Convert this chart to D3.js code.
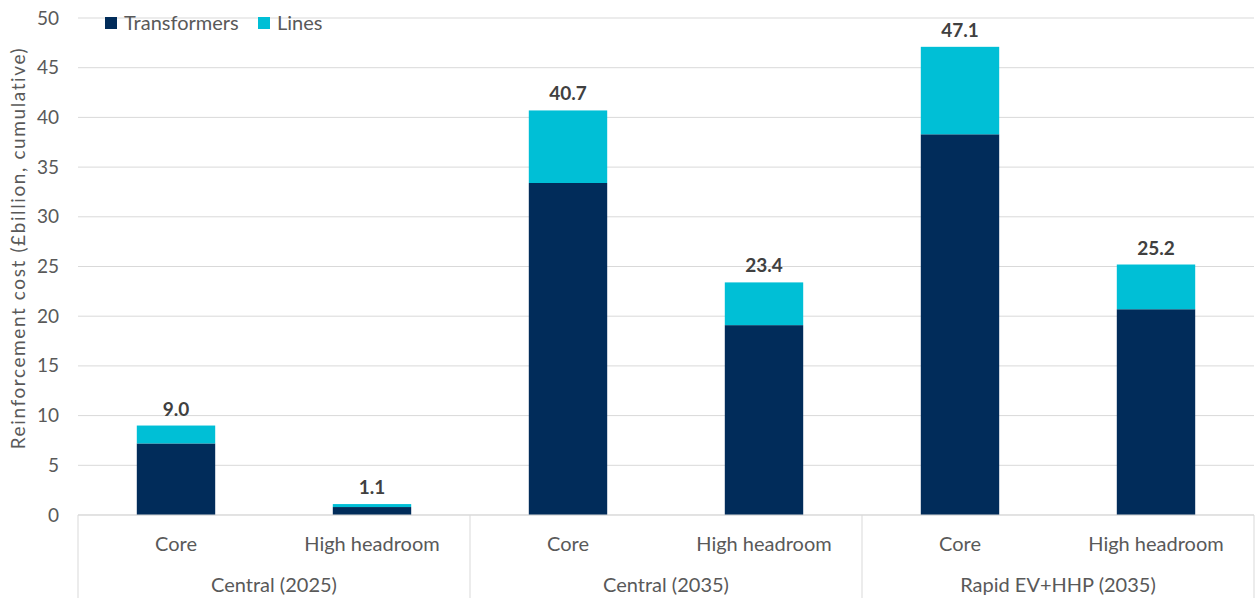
<!DOCTYPE html>
<html>
<head>
<meta charset="utf-8">
<script src="https://cdn.jsdelivr.net/npm/d3@7"></script>
<style>
  html, body { margin: 0; padding: 0; background: #fff; }
  svg { display: block; font-family: Lato, "Open Sans", sans-serif; }
</style>
</head>
<body>
<svg id="chart" width="1255" height="598"></svg>
<script>
// Reinforcement cost by scenario, split into transformers and lines (£bn, cumulative)
const groups = ["Central (2025)", "Central (2035)", "Rapid EV+HHP (2035)"];
const cases = ["Core", "High headroom"];
const transformers = [7.2, 0.8, 33.4, 19.1, 38.3, 20.7];
const lines = [1.8, 0.3, 7.3, 4.3, 8.8, 4.5];
const totals = [9.0, 1.1, 40.7, 23.4, 47.1, 25.2];
const yTicks = [0, 5, 10, 15, 20, 25, 30, 35, 40, 45, 50];
const seriesNames = ["Transformers", "Lines"];
const colors = ["#012c5a", "#00bfd6"];

const rows = [];
groups.forEach((g, gi) => cases.forEach((c, ci) => {
  const i = gi * cases.length + ci;
  rows.push({ key: g + "|" + c, group: g, label: c, Transformers: transformers[i], Lines: lines[i], total: totals[i] });
}));

const svg = d3.select("#chart");
const m = { left: 78, right: 1254, top: 18, bottom: 515 };

const x = d3.scaleBand().domain(rows.map(d => d.key)).range([m.left, m.right]).paddingInner(0.6).paddingOuter(0.3);
const y = d3.scaleLinear().domain([0, 50]).range([m.bottom, m.top]);

// gridlines
svg.append("g").selectAll("line").data(yTicks).join("line")
  .attr("x1", m.left).attr("x2", m.right)
  .attr("y1", d => y(d)).attr("y2", d => y(d))
  .attr("stroke", "#d9d9d9").attr("stroke-width", 1);

// y axis labels
const yAxis = svg.append("g").attr("transform", `translate(${m.left},0)`)
  .call(d3.axisLeft(y).tickValues(yTicks).tickSize(0).tickPadding(19));
yAxis.select(".domain").remove();
yAxis.selectAll("text").attr("fill", "#595959").style("font-size", "19px").style("font-family", "Lato, sans-serif");

// y axis title
svg.append("text")
  .attr("transform", `translate(25,248) rotate(-90)`)
  .attr("text-anchor", "middle")
  .attr("fill", "#595959").style("font-size", "19px").style("letter-spacing", "1.6px")
  .text("Reinforcement cost (£billion, cumulative)");

// stacked bars
const stack = d3.stack().keys(seriesNames)(rows);
svg.append("g").selectAll("g").data(stack).join("g")
  .attr("fill", (d, i) => colors[i])
  .selectAll("rect").data(d => d).join("rect")
  .attr("x", d => x(d.data.key))
  .attr("width", x.bandwidth())
  .attr("y", d => y(d[1]))
  .attr("height", d => y(d[0]) - y(d[1]));

// total labels
svg.append("g").selectAll("text").data(rows).join("text")
  .attr("x", d => x(d.key) + x.bandwidth() / 2)
  .attr("y", d => y(d.total) - 10)
  .attr("text-anchor", "middle")
  .attr("fill", "#404040").style("font-size", "19px").style("font-weight", "bold")
  .text(d => d.total.toFixed(1));

// category axis line and group separators
svg.append("line").attr("x1", m.left).attr("x2", m.right)
  .attr("y1", m.bottom).attr("y2", m.bottom).attr("stroke", "#d9d9d9");
const groupW = (m.right - m.left) / groups.length;
const seps = d3.range(groups.length + 1).map(i => m.left + i * groupW);
svg.append("g").selectAll("line").data(seps).join("line")
  .attr("x1", d => d).attr("x2", d => d)
  .attr("y1", m.bottom).attr("y2", 598)
  .attr("stroke", "#d9d9d9");

// case labels
svg.append("g").selectAll("text").data(rows).join("text")
  .attr("x", d => x(d.key) + x.bandwidth() / 2)
  .attr("y", 551)
  .attr("text-anchor", "middle")
  .attr("fill", "#595959").style("font-size", "20px")
  .text(d => d.label);

// group labels
svg.append("g").selectAll("text").data(groups).join("text")
  .attr("x", (d, i) => m.left + (i + 0.5) * groupW)
  .attr("y", 592)
  .attr("text-anchor", "middle")
  .attr("fill", "#595959").style("font-size", "20px")
  .text(d => d);

// legend
const legend = svg.append("g");
const legX = [105, 258];
seriesNames.forEach((s, i) => {
  legend.append("rect").attr("x", legX[i]).attr("y", 17).attr("width", 12).attr("height", 12).attr("fill", colors[i]);
  legend.append("text").attr("x", legX[i] + 19).attr("y", 30)
    .attr("fill", "#595959").style("font-size", "20px").text(s);
});
</script>
</body>
</html>
